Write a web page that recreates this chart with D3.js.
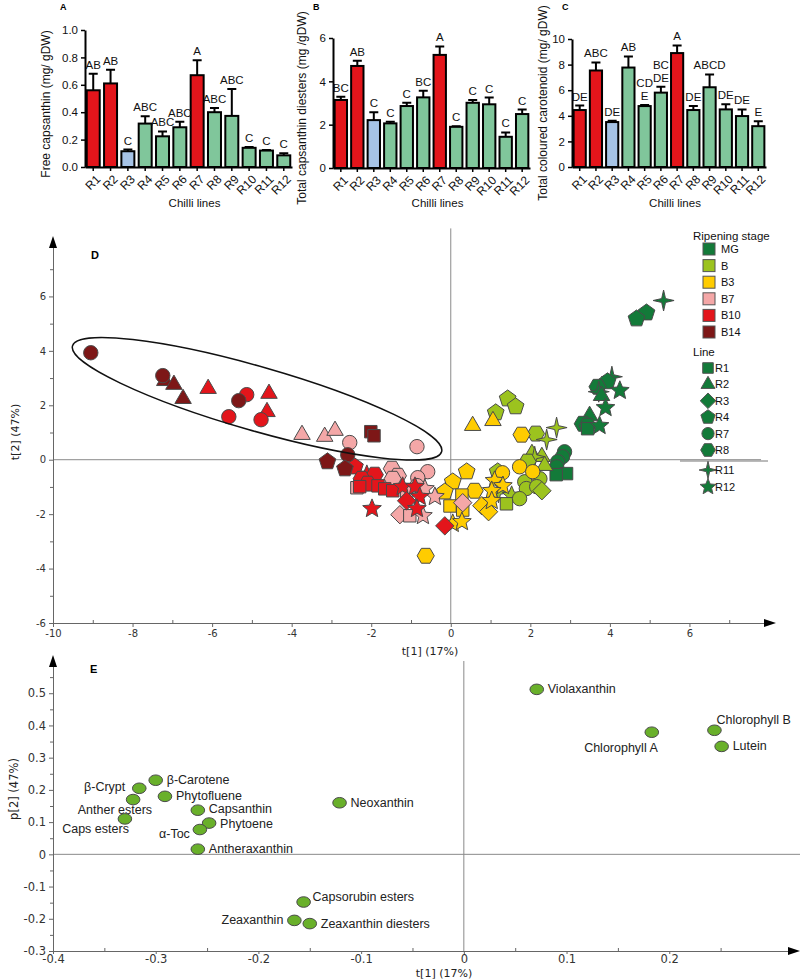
<!DOCTYPE html>
<meta charset="utf-8">
<style>
  body { margin: 0; background: #fff; }
  svg { display: block; font-family: "Liberation Sans", Arial, sans-serif; }
</style>
<body>
<svg id="fig" width="800" height="979"></svg>
<script src="https://cdn.jsdelivr.net/npm/d3@7"></script>
<script>
// ---------- data: bar panels ----------
var lines = ["R1","R2","R3","R4","R5","R6","R7","R8","R9","R10","R11","R12"];
var lineGroup = ["red","red","blue","green","green","green","red","green","green","green","green","green"];

var freeCaps    = [0.56, 0.61, 0.115, 0.317, 0.224, 0.29, 0.67, 0.40, 0.373, 0.14, 0.12, 0.085];
var freeCapsErr = [0.12, 0.10, 0.012, 0.053, 0.036, 0.04, 0.11, 0.03, 0.197, 0.006, 0.005, 0.015];
var freeCapsSig = ["AB","AB","C","ABC","ABC","ABC","A","ABC","ABC","C","C","C"];

var capsDiesters    = [3.14, 4.71, 2.21, 2.06, 2.86, 3.26, 5.22, 1.90, 3.01, 2.94, 1.44, 2.49];
var capsDiestersErr = [0.15, 0.24, 0.36, 0.07, 0.15, 0.31, 0.39, 0.03, 0.13, 0.31, 0.20, 0.21];
var capsDiestersSig = ["BC","AB","C","C","C","BC","A","C","C","C","C","C"];

var colouredCar    = [4.45, 7.54, 3.51, 7.77, 4.76, 5.81, 8.9, 4.45, 6.23, 4.5, 3.98, 3.19];
var colouredCarErr = [0.35, 0.63, 0.10, 0.87, 0.08, 0.45, 0.6, 0.31, 1.0, 0.4, 0.52, 0.39];
var colouredCarSig = ["DE","ABC","DE","AB","CD\nE","BC\nDE","A","DE","ABCD","DE","DE","E"];

// ---------- data: PCA scores (line, t[1], t[2]) by ripening stage ----------
var stages = ["MG","B","B3","B7","B10","B14"];
var stageColor = ["#137a39","#9cc31e","#ffcc00","#f4a7a7","#e3151b","#7d1717"];
var lineShapes = ["R1","R2","R3","R4","R7","R8","R11","R12"];

var scoresMG = [["R11",5.35,5.85],["R4",4.92,5.4],["R4",4.67,5.18],["R11",4.05,3.05],["R4",3.94,2.87],["R8",3.69,2.68],
  ["R12",4.25,2.54],["R11",3.72,2.5],["R2",3.79,2.35],["R12",3.89,1.91],["R2",3.49,1.62],["R8",3.32,1.32],["R8",3.44,1.25],
  ["R1",3.44,1.14],["R12",3.74,1.25],["R7",2.86,0.29],["R7",2.81,0.11],["R7",2.69,-0.07],["R7",2.66,-0.26],["R1",2.91,-0.51],["R1",2.65,-0.55]];
var scoresB = [["R4",1.13,1.73],["R4",1.43,2.24],["R4",1.63,1.95],["R8",2.14,0.96],["R11",2.66,1.18],["R11",2.41,0.74],
  ["R2",2.04,0.22],["R2",2.29,0.11],["R11",2.11,0.11],["R2",2.36,-0.22],["R8",1.93,-0.07],["R4",1.18,-0.44],["R7",1.86,-0.81],
  ["R7",2.24,-0.7],["R7",1.9,-1.06],["R7",2.16,-0.99],["R3",2.29,-1.14],["R11",1.2,-1.2],["R12",1.53,-1.32],["R1",1.4,-1.62],["R7",1.73,-1.43]];
var scoresB3 = [["R2",0.55,1.25],["R2",1.06,1.43],["R8",1.78,0.92],["R4",0.4,-0.44],["R4",0.05,-0.81],["R4",-0.15,-1.18],
  ["R8",0.6,-1.14],["R1",0.28,-1.3],["R1",-0.02,-1.7],["R1",0.3,-1.85],["R3",0.78,-1.69],["R3",0.95,-1.91],["R12",0.05,-2.35],
  ["R12",0.28,-2.28],["R8",-0.63,-3.53],["R7",1.73,-0.26],["R7",2.06,-0.44],["R7",1.3,-0.48],["R12",1.1,-0.77],["R12",1.31,-0.96],
  ["R12",1.03,-1.14],["R12",1.03,-1.51]];
var scoresB7 = [["R2",-3.74,0.92],["R2",-3.17,0.85],["R2",-2.91,1.07],["R7",-2.54,0.63],["R7",-0.85,0.48],["R8",-1.48,-0.33],
  ["R8",-1.33,-0.59],["R7",-0.58,-0.44],["R7",-0.83,-0.66],["R7",-0.85,-0.95],["R1",-2.36,-1.03],["R8",-1.46,-0.7],["R1",-1.11,-1.18],
  ["R12",-0.65,-1.07],["R12",-0.4,-1.36],["R3",-1.28,-2.02],["R1",-1.03,-2.06],["R12",-0.7,-2.06],["R3",0.3,-1.58]];
var scoresB10 = [["R2",-6.1,2.61],["R7",-5.13,2.39],["R2",-4.57,2.43],["R2",-4.62,1.76],["R7",-5.58,1.58],["R7",-4.77,1.47],
  ["R4",-2.41,-0.26],["R12",-2.11,-0.55],["R8",-1.91,-0.55],["R8",-2.24,-0.7],["R8",-2.09,-0.88],["R1",-2.29,-0.99],["R1",-1.83,-0.96],
  ["R1",-1.66,-1.07],["R1",-1.46,-1.14],["R12",-1.98,-1.8],["R12",-1.21,-0.99],["R12",-0.9,-0.99],["R12",-0.78,-1.36],["R3",-1.11,-1.51],
  ["R12",-0.85,-1.8],["R3",-0.15,-2.43]];
var scoresB14 = [["R7",-9.05,3.93],["R2",-7.19,2.9],["R7",-7.24,3.09],["R2",-6.96,2.76],["R2",-6.73,2.24],["R7",-5.33,2.17],
  ["R1",-2.01,1.03],["R1",-1.93,0.88],["R7",-2.59,0.18],["R4",-3.1,-0.07],["R4",-2.66,-0.33]];

// ---------- data: PCA loadings ----------
var loadNames = ["β-Carotene","β-Crypt","Anther esters","Caps esters","Phytofluene","Capsanthin","Phytoene","α-Toc",
  "Antheraxanthin","Neoxanthin","Capsorubin esters","Zeaxanthin","Zeaxanthin diesters","Violaxanthin","Chlorophyll A","Chlorophyll B","Lutein"];
var loadP1 = [-0.300,-0.316,-0.322,-0.330,-0.291,-0.259,-0.248,-0.257,-0.259,-0.121,-0.156,-0.165,-0.150,0.071,0.183,0.244,0.251];
var loadP2 = [0.230,0.205,0.170,0.110,0.180,0.137,0.097,0.077,0.016,0.160,-0.148,-0.205,-0.215,0.512,0.379,0.385,0.335];

var svg = d3.select("#fig");
var barFill = { red: "#e3151b", blue: "#a6c3e6", green: "#80c69b" };

function fmtDash(f) { return function (d) { return f(d).replace("\u2212", "-"); }; }

// ---------- bar panels ----------
function barPanel(o) {
  var g = svg.append("g");
  var x = d3.scaleBand().domain(lines).range([o.x0, o.x1]).paddingInner(0.25).paddingOuter(0.1);
  var y = d3.scaleLinear().domain([0, o.max]).range([o.y0, o.y1]);

  var ya = g.append("g").attr("transform", "translate(" + o.x0 + ",0)")
    .call(d3.axisLeft(y).tickValues(o.ticks).tickFormat(o.fmt).tickSize(4).tickSizeOuter(0));
  var xa = g.append("g").attr("transform", "translate(0," + o.y0 + ")")
    .call(d3.axisBottom(x).tickSize(4).tickSizeOuter(0));
  [ya, xa].forEach(function (a) {
    a.select(".domain").attr("stroke", "#000").attr("stroke-width", 2);
    a.selectAll(".tick line").attr("stroke", "#000").attr("stroke-width", 1.5);
    a.selectAll("text").attr("font-size", 11.5).attr("fill", "#111").attr("font-family", "Liberation Sans, Arial");
  });
  xa.selectAll(".tick text").attr("x", 0).attr("y", 0).attr("dy", "0.35em").attr("font-size", 12)
    .attr("text-anchor", "end").attr("transform", "translate(5,10) rotate(-45)");

  var rows = lines.map(function (l, i) {
    return { l: l, v: o.vals[i], e: o.errs[i], s: o.sig[i], c: barFill[lineGroup[i]] };
  });
  var cx = function (d) { return x(d.l) + x.bandwidth() / 2; };

  g.selectAll(".eb").data(rows).enter().append("path")
    .attr("d", function (d) {
      var t = y(d.v + d.e), c = cx(d);
      return "M" + c + "," + y(d.v) + "V" + t + "M" + (c - 4.5) + "," + t + "H" + (c + 4.5);
    })
    .attr("stroke", "#000").attr("stroke-width", 2).attr("fill", "none");

  g.selectAll(".bar").data(rows).enter().append("rect")
    .attr("x", function (d) { return x(d.l); })
    .attr("y", function (d) { return y(d.v); })
    .attr("width", x.bandwidth())
    .attr("height", function (d) { return o.y0 - y(d.v); })
    .attr("fill", function (d) { return d.c; })
    .attr("stroke", "#000").attr("stroke-width", 2);

  rows.forEach(function (d) {
    var parts = d.s.split("\n");
    parts.forEach(function (p, k) {
      g.append("text").attr("x", cx(d))
        .attr("y", y(d.v + d.e) - 5 - (parts.length - 1 - k) * 13)
        .attr("text-anchor", "middle").attr("font-size", 11.5).attr("fill", "#111").text(p);
    });
  });

  g.append("text").attr("transform", "translate(" + o.labX + "," + o.labY + ") rotate(-90)")
    .attr("text-anchor", "middle").attr("font-size", 12).attr("fill", "#111").text(o.ylab);
  g.append("text").attr("x", (o.x0 + o.x1) / 2 + 6).attr("y", 207)
    .attr("text-anchor", "middle").attr("font-size", 11.5).attr("fill", "#111").text("Chilli lines");
  g.append("text").attr("x", o.px).attr("y", 10).attr("font-size", 9).attr("font-weight", "bold").text(o.panel);
}

barPanel({ panel: "A", px: 60, x0: 85, x1: 292, y0: 167, y1: 30, max: 1, ticks: [0, 0.2, 0.4, 0.6, 0.8, 1.0],
  fmt: d3.format(".1f"), vals: freeCaps, errs: freeCapsErr, sig: freeCapsSig,
  ylab: "Free capsanthin (mg/ gDW)", labX: 50, labY: 104 });
barPanel({ panel: "B", px: 313, x0: 333, x1: 530, y0: 168, y1: 38, max: 6, ticks: [0, 2, 4, 6],
  fmt: d3.format("d"), vals: capsDiesters, errs: capsDiestersErr, sig: capsDiestersSig,
  ylab: "Total capsanthin diesters (mg /gDW)", labX: 306, labY: 108 });
barPanel({ panel: "C", px: 562, x0: 572, x1: 766, y0: 167, y1: 39, max: 10, ticks: [0, 2, 4, 6, 8, 10],
  fmt: d3.format("d"), vals: colouredCar, errs: colouredCarErr, sig: colouredCarSig,
  ylab: "Total coloured carotenoid (mg/ gDW)", labX: 547, labY: 103 });

// ---------- marker shapes ----------
function poly(n, r, rot, inner) {
  var m = inner ? n * 2 : n, pts = [];
  for (var i = 0; i < m; i++) {
    var a = rot + i * 2 * Math.PI / m, rr = (inner && i % 2) ? r * inner : r;
    pts.push([(rr * Math.sin(a)).toFixed(2), (-rr * Math.cos(a)).toFixed(2)]);
  }
  return "M" + pts.join("L") + "Z";
}
function shape(line, k) {
  k = k || 1;
  switch (line) {
    case "R1": return poly(4, 8.8 * k, Math.PI / 4);
    case "R2": return poly(3, 9.5 * k, 0);
    case "R3": return poly(4, 9.2 * k, 0);
    case "R4": return poly(5, 8.8 * k, 0);
    case "R7": var r = 7.2 * k; return "M" + r + ",0A" + r + "," + r + " 0 1 1 " + (-r) + ",0A" + r + "," + r + " 0 1 1 " + r + ",0Z";
    case "R8": return poly(6, 8.6 * k, Math.PI / 2);
    case "R11": return poly(4, 10.5 * k, 0, 0.26);
    case "R12": return poly(5, 9.8 * k, 0, 0.45);
  }
}

// ---------- panel D: scores ----------
var xD = d3.scaleLinear().domain([-10, 8]).range([53, 769]);
var yD = d3.scaleLinear().domain([-6, 8]).range([623, 242]);
var gD = svg.append("g");

gD.append("line").attr("x1", xD(0)).attr("x2", xD(0)).attr("y1", yD(8.5)).attr("y2", yD(-6)).attr("stroke", "#8a8a8a");
gD.append("line").attr("x1", xD(-10)).attr("x2", xD(7.8)).attr("y1", yD(0)).attr("y2", yD(0)).attr("stroke", "#8a8a8a");

function styleAxis(a, size) {
  a.select(".domain").attr("stroke", "#666");
  a.selectAll(".tick line").attr("stroke", "#666");
  a.selectAll("text").attr("font-family", "DejaVu Sans, sans-serif").attr("font-size", size).attr("fill", "#333");
}
var yaD = gD.append("g").attr("transform", "translate(53,0)")
  .call(d3.axisLeft(yD).tickValues(d3.range(-6, 7, 2)).tickFormat(fmtDash(d3.format("d"))).tickSize(4).tickSizeOuter(0));
styleAxis(yaD, 10);
gD.append("g").attr("transform", "translate(53,0)")
  .call(d3.axisLeft(yD).tickValues(d3.range(-5, 8, 2)).tickFormat("").tickSize(3)).call(function (a) {
    a.select(".domain").remove(); a.selectAll("line").attr("stroke", "#666");
  });
var xaD = gD.append("g").attr("transform", "translate(0,623)")
  .call(d3.axisBottom(xD).tickValues(d3.range(-10, 7, 2)).tickFormat(fmtDash(d3.format("d"))).tickSize(4).tickSizeOuter(0));
styleAxis(xaD, 10);
gD.append("g").attr("transform", "translate(0,623)")
  .call(d3.axisTop(xD).tickValues(d3.range(-9, 8, 2)).tickFormat("").tickSize(3)).call(function (a) {
    a.select(".domain").remove(); a.selectAll("line").attr("stroke", "#666");
  });
gD.append("path").attr("d", "M53,236L49,248L57,248Z").attr("fill", "#000");
gD.append("path").attr("d", "M776,623L764,619L764,627Z").attr("fill", "#000");

gD.append("text").attr("transform", "translate(19,432) rotate(-90)").attr("text-anchor", "middle")
  .attr("font-family", "DejaVu Sans, sans-serif").attr("font-size", 11).attr("fill", "#222").text("t[2] (47%)");
gD.append("text").attr("x", 430).attr("y", 655).attr("text-anchor", "middle")
  .attr("font-family", "DejaVu Sans, sans-serif").attr("font-size", 11).attr("fill", "#222").text("t[1] (17%)");
gD.append("text").attr("x", 91).attr("y", 259).attr("font-size", 11).attr("font-weight", "bold").text("D");

var allScores = [scoresMG, scoresB, scoresB3, scoresB7, scoresB10, scoresB14];
allScores.forEach(function (set, si) {
  gD.append("g").selectAll("path").data(set).enter().append("path")
    .attr("d", function (d) { return shape(d[0]); })
    .attr("transform", function (d) { return "translate(" + xD(d[1]) + "," + yD(d[2]) + ")"; })
    .attr("fill", stageColor[si]).attr("stroke", "#4a4a4a").attr("stroke-width", 1);
});

// cluster ellipse around late-stage R2/R7 samples
gD.append("ellipse").attr("cx", 0).attr("cy", 0).attr("rx", 192).attr("ry", 32)
  .attr("transform", "translate(" + xD(-4.87) + "," + yD(2.24) + ") rotate(16)")
  .attr("fill", "none").attr("stroke", "#111").attr("stroke-width", 1.5);

// legend
var lg = svg.append("g");
lg.append("text").attr("x", 693).attr("y", 240).attr("font-size", 11.5).attr("fill", "#111").text("Ripening stage");
stages.forEach(function (s, i) {
  var yy = 249 + i * 16.6;
  lg.append("rect").attr("x", 703).attr("y", yy - 6).attr("width", 12).attr("height", 12)
    .attr("fill", stageColor[i]).attr("stroke", "#555");
  lg.append("text").attr("x", 721).attr("y", yy + 4).attr("font-size", 11).attr("fill", "#111").text(s);
});
lg.append("text").attr("x", 693).attr("y", 356).attr("font-size", 11.5).attr("fill", "#111").text("Line");
lineShapes.forEach(function (l, i) {
  var yy = i < 6 ? 368 + i * 16.4 : 470 + (i - 6) * 17;
  lg.append("path").attr("d", shape(l, 0.85)).attr("transform", "translate(708," + yy + ")")
    .attr("fill", stageColor[0]).attr("stroke", "#555");
  lg.append("text").attr("x", 715).attr("y", yy + 4).attr("font-size", 11).attr("fill", "#111").text(l);
});
lg.append("line").attr("x1", 680).attr("x2", 768).attr("y1", 461).attr("y2", 461).attr("stroke", "#777");

// ---------- panel E: loadings ----------
var xE = d3.scaleLinear().domain([-0.4, 0.32]).range([53, 792.5]);
var yE = d3.scaleLinear().domain([-0.3, 0.6]).range([951, 661]);
var gE = svg.append("g");

gE.append("line").attr("x1", xE(0)).attr("x2", xE(0)).attr("y1", yE(0.6)).attr("y2", yE(-0.3)).attr("stroke", "#8a8a8a");
gE.append("line").attr("x1", xE(-0.4)).attr("x2", xE(0.33)).attr("y1", yE(0)).attr("y2", yE(0)).attr("stroke", "#8a8a8a");

var fmtE = function (d) { return Math.abs(d) < 1e-9 ? "0" : d3.format(".1f")(d).replace("\u2212", "-"); };
var yaE = gE.append("g").attr("transform", "translate(53,0)")
  .call(d3.axisLeft(yE).tickValues([-0.3, -0.2, -0.1, 0, 0.1, 0.2, 0.3, 0.4, 0.5]).tickFormat(fmtE).tickSize(4).tickSizeOuter(0));
styleAxis(yaE, 11.5);
gE.append("g").attr("transform", "translate(53,0)")
  .call(d3.axisLeft(yE).tickValues([-0.25, -0.15, -0.05, 0.05, 0.15, 0.25, 0.35, 0.45, 0.55]).tickFormat("").tickSize(3)).call(function (a) {
    a.select(".domain").remove(); a.selectAll("line").attr("stroke", "#666");
  });
var xaE = gE.append("g").attr("transform", "translate(0,951)")
  .call(d3.axisBottom(xE).tickValues([-0.4, -0.3, -0.2, -0.1, 0, 0.1, 0.2]).tickFormat(fmtE).tickSize(3).tickPadding(1).tickSizeOuter(0));
styleAxis(xaE, 11.5);
gE.append("g").attr("transform", "translate(0,951)")
  .call(d3.axisTop(xE).tickValues([-0.35, -0.25, -0.15, -0.05, 0.05, 0.15, 0.25]).tickFormat("").tickSize(3)).call(function (a) {
    a.select(".domain").remove(); a.selectAll("line").attr("stroke", "#666");
  });
gE.append("path").attr("d", "M53,655L49,667L57,667Z").attr("fill", "#000");
gE.append("path").attr("d", "M800,951L788,947L788,955Z").attr("fill", "#000");

gE.append("text").attr("transform", "translate(18,789) rotate(-90)").attr("text-anchor", "middle")
  .attr("font-family", "DejaVu Sans, sans-serif").attr("font-size", 11.5).attr("fill", "#222").text("p[2] (47%)");
gE.append("text").attr("x", 444).attr("y", 977).attr("text-anchor", "middle")
  .attr("font-family", "DejaVu Sans, sans-serif").attr("font-size", 11).attr("fill", "#222").text("t[1] (17%)");
gE.append("text").attr("x", 90).attr("y", 673).attr("font-size", 11).attr("font-weight", "bold").text("E");

// label placement: [dx, dy, anchor]
var labelPlace = {
  "β-Crypt": [-14, 3, "end"], "Anther esters": [19, 14, "end"], "Caps esters": [4, 14, "end"],
  "α-Toc": [-10, 8, "end"], "Zeaxanthin": [-11, 4, "end"], "Chlorophyll A": [6, 20, "end"],
  "Chlorophyll B": [2, -6, "start"], "Capsorubin esters": [9, -1, "start"], "Phytoene": [11, 5, "start"],
  "Capsanthin": [11, 3, "start"]
};
loadNames.forEach(function (n, i) {
  var px = xE(loadP1[i]), py = yE(loadP2[i]);
  gE.append("ellipse").attr("cx", px).attr("cy", py).attr("rx", 6.8).attr("ry", 5.3)
    .attr("fill", "#69b02a").attr("stroke", "#4a4a4a").attr("stroke-width", 1);
  var p = labelPlace[n] || [11, 4, "start"];
  gE.append("text").attr("x", px + p[0]).attr("y", py + p[1]).attr("text-anchor", p[2])
    .attr("font-size", 12.5).attr("fill", "#222").text(n);
});
</script>
</body>
